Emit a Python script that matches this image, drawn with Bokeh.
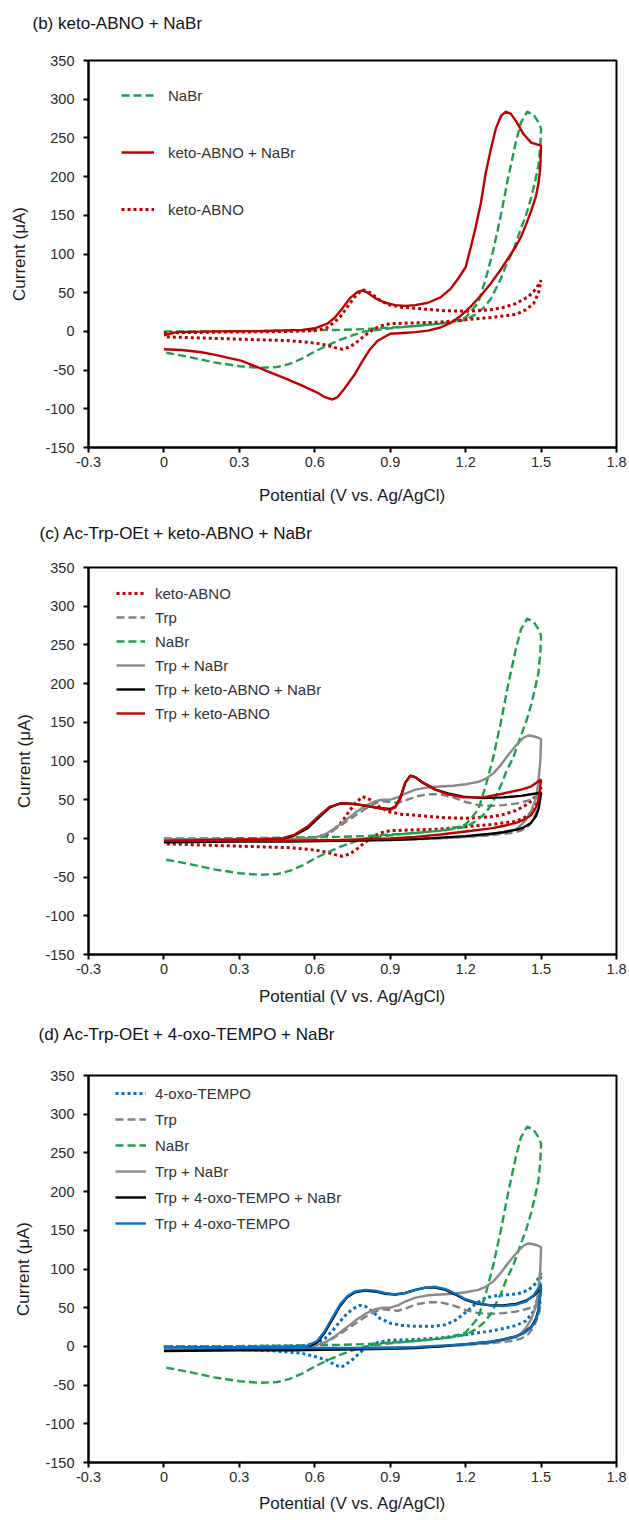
from bokeh.plotting import figure
from bokeh.models import Legend, LegendItem, FixedTicker, Title
from bokeh.layouts import column
from bokeh.embed import file_html
from bokeh.resources import INLINE

# ---------------- data ----------------
X_TICKS = [-0.3, 0, 0.3, 0.6, 0.9, 1.2, 1.5, 1.8]
X_TICK_LABELS = ["-0.3", "0", "0.3", "0.6", "0.9", "1.2", "1.5", "1.8"]
Y_TICKS = [-150, -100, -50, 0, 50, 100, 150, 200, 250, 300, 350]
Y_TICK_LABELS = ["-150", "-100", "-50", "0", "50", "100", "150", "200", "250", "300", "350"]

PANEL_TITLES = ["(b) keto-ABNO + NaBr",
                "(c) Ac-Trp-OEt + keto-ABNO + NaBr",
                "(d) Ac-Trp-OEt + 4-oxo-TEMPO + NaBr"]
X_LABEL = "Potential (V vs. Ag/AgCl)"
Y_LABEL = "Current (\u03bcA)"

PANEL_B_SERIES = ["NaBr", "keto-ABNO + NaBr", "keto-ABNO"]
PANEL_C_SERIES = ["keto-ABNO", "Trp", "NaBr", "Trp + NaBr",
                  "Trp + keto-ABNO + NaBr", "Trp + keto-ABNO"]
PANEL_D_SERIES = ["4-oxo-TEMPO", "Trp", "NaBr", "Trp + NaBr",
                  "Trp + 4-oxo-TEMPO + NaBr", "Trp + 4-oxo-TEMPO"]

# NaBr (forward then reverse sweep)
NABR_E = [0, 0.2, 0.4, 0.6, 0.7, 0.8, 0.9, 1.0, 1.1, 1.15, 1.2, 1.25, 1.28, 1.31, 1.34, 1.37, 1.4, 1.42,
          1.445, 1.47, 1.49, 1.5,
          1.5, 1.497, 1.49, 1.475, 1.46, 1.44, 1.42, 1.39, 1.36, 1.34, 1.3, 1.27, 1.24, 1.2, 1.15, 1.1,
          1.0, 0.9, 0.8, 0.75, 0.7, 0.65, 0.6, 0.55, 0.5, 0.45, 0.38, 0.3, 0.2, 0.1, 0]
NABR_I = [0, 0, 0.5, 1.5, 2, 3, 5, 7, 10, 13, 18, 37, 68, 105, 150, 200, 245, 270,
          284, 280, 270, 262,
          262, 240, 215, 192, 172, 150, 133, 105, 85, 68, 42, 30, 22, 15, 12, 10,
          7, 4, 0, -5, -11, -18, -26, -35, -42, -46, -47, -45, -40, -33, -27]

# keto-ABNO + NaBr
KETO_NABR_E = [0, 0.05, 0.2, 0.4, 0.55, 0.6, 0.65, 0.68, 0.71, 0.74, 0.77, 0.79, 0.81, 0.84, 0.88, 0.92,
               0.96, 1.0, 1.05, 1.1, 1.14, 1.17, 1.2, 1.22, 1.24, 1.26, 1.28, 1.3, 1.32, 1.34, 1.36, 1.38,
               1.4, 1.43, 1.46, 1.5,
               1.5, 1.497, 1.49, 1.48, 1.46, 1.44, 1.42, 1.4, 1.37, 1.34, 1.3, 1.26, 1.22, 1.18, 1.14,
               1.1, 1.05, 1.0, 0.95, 0.9, 0.85, 0.82, 0.79, 0.76, 0.72, 0.69, 0.67, 0.64, 0.61, 0.55,
               0.47, 0.4, 0.31, 0.2, 0.15, 0.07, 0]
KETO_NABR_I = [-5, -1, 0, 0.5, 2, 4, 10, 18, 30, 43, 51, 53, 50, 43, 37, 34,
               33, 34, 37, 44, 55, 68, 83, 108, 135, 165, 205, 235, 262, 278, 284, 281,
               272, 255, 244, 240,
               240, 212, 192, 175, 155, 138, 122, 110, 95, 80, 62, 46, 32, 20, 11,
               5, 1, -1, -2, -3, -12, -23, -38, -55, -73, -85, -88, -85, -79, -70,
               -59, -50, -38, -30, -27, -24, -23]

# keto-ABNO
KETO_E = [0, 0.2, 0.4, 0.5, 0.6, 0.65, 0.7, 0.73, 0.76, 0.79, 0.82, 0.86, 0.9, 0.95, 1.0, 1.1, 1.2, 1.3,
          1.35, 1.4, 1.45, 1.48, 1.5,
          1.5, 1.49, 1.47, 1.44, 1.4, 1.3, 1.2, 1.1, 1.0, 0.9, 0.86, 0.83, 0.8, 0.77, 0.74, 0.71, 0.68,
          0.65, 0.6, 0.5, 0.4, 0.3, 0.2, 0.1, 0]
KETO_I = [-2, -1, -0.5, 0, 1, 5, 18, 32, 45, 54, 50, 40, 34, 31, 30, 27, 26, 28,
          31, 36, 45, 55, 66,
          66, 50, 36, 28, 22, 18, 15, 12, 11, 10, 7, 2, -5, -13, -20, -23, -21,
          -18, -15, -12, -11, -10, -9, -8, -7]

# Trp
TRP_E = [0, 0.3, 0.55, 0.6, 0.65, 0.7, 0.75, 0.8, 0.84, 0.87, 0.9, 0.93, 0.97, 1.0, 1.05, 1.1, 1.15,
         1.2, 1.25, 1.3, 1.35, 1.4, 1.45, 1.48, 1.5,
         1.5, 1.49, 1.47, 1.45, 1.42, 1.38, 1.3, 1.2, 1.1, 1.0, 0.8, 0.6, 0.3, 0]
TRP_I = [-1, -1, 0, 1, 6, 16, 27, 38, 45, 48, 47, 46, 50, 54, 57, 57, 53,
         47, 43, 42, 43, 45, 49, 53, 57,
         57, 40, 25, 16, 10, 7, 4, 2, 0, -1, -2, -3, -3, -3]

# Trp + NaBr
TRP_NABR_E = [0, 0.3, 0.55, 0.6, 0.64, 0.68, 0.72, 0.76, 0.8, 0.84, 0.87, 0.9, 0.93, 0.96, 1.0, 1.05,
              1.1, 1.15, 1.2, 1.25, 1.28, 1.31, 1.34, 1.37, 1.4, 1.43, 1.45, 1.47, 1.49, 1.5,
              1.5, 1.497, 1.49, 1.48, 1.46, 1.44, 1.42, 1.4, 1.35, 1.3, 1.2, 1.1, 1.0, 0.8, 0.6, 0.3, 0]
TRP_NABR_I = [-1, -1, 0, 1, 5, 13, 23, 33, 42, 48, 50, 50, 53, 58, 63, 66,
              67, 68, 70, 73, 77, 84, 95, 108, 120, 130, 133, 132, 130, 128,
              128, 100, 75, 52, 35, 24, 17, 12, 8, 5, 2, 0, -1, -2, -3, -3, -3]

# Trp + keto-ABNO + NaBr
TRP_KETO_NABR_E = [0, 0.2, 0.4, 0.47, 0.52, 0.57, 0.62, 0.66, 0.7, 0.73, 0.77, 0.82, 0.86, 0.9, 0.92, 0.94,
                   0.96, 0.98, 1.0, 1.03, 1.08, 1.13, 1.19, 1.27, 1.35, 1.42, 1.46, 1.5,
                   1.5, 1.495, 1.49, 1.48, 1.46, 1.43, 1.4, 1.35, 1.3, 1.2, 1.1, 1.0, 0.9, 0.7, 0.5, 0.3, 0]
TRP_KETO_NABR_I = [-5, -4, -3, -1, 4, 13, 28, 40, 45, 45, 44, 41, 39, 38, 41, 52,
                   72, 81, 79, 72, 63, 58, 54, 52, 53, 55, 57, 59,
                   59, 48, 38, 29, 20, 14, 11, 8, 6, 3, 1, -1, -2, -3, -4, -4, -5]

# Trp + keto-ABNO
TRP_KETO_E = [0, 0.2, 0.4, 0.47, 0.52, 0.57, 0.62, 0.66, 0.7, 0.73, 0.77, 0.82, 0.86, 0.9, 0.92, 0.94,
              0.96, 0.98, 1.0, 1.03, 1.08, 1.13, 1.19, 1.27, 1.35, 1.42, 1.46, 1.5,
              1.5, 1.495, 1.49, 1.48, 1.46, 1.43, 1.4, 1.35, 1.3, 1.2, 1.1, 1.0, 0.9, 0.7, 0.5, 0.3, 0]
TRP_KETO_I = [-3, -2, -1, 0, 5, 15, 30, 41, 45, 45, 44, 41, 39, 37, 40, 51,
              72, 81, 79, 72, 63, 57, 53, 53, 58, 63, 67, 76,
              76, 62, 50, 40, 30, 24, 20, 16, 13, 9, 5, 2, 0, -2, -3, -3, -3]

# 4-oxo-TEMPO
OXO_E = [0, 0.3, 0.55, 0.6, 0.64, 0.67, 0.7, 0.73, 0.76, 0.78, 0.8, 0.83, 0.86, 0.9, 0.95, 1.0, 1.07,
         1.12, 1.16, 1.2, 1.24, 1.28, 1.33, 1.38, 1.42, 1.45, 1.48, 1.5,
         1.5, 1.495, 1.49, 1.47, 1.44, 1.4, 1.35, 1.3, 1.2, 1.1, 1.0, 0.9, 0.85, 0.81, 0.78, 0.75, 0.72,
         0.705, 0.68, 0.65, 0.6, 0.55, 0.45, 0.3, 0.15, 0]
OXO_I = [0, 0, 1, 3, 10, 20, 32, 43, 50, 53, 52, 45, 36, 30, 27, 26, 26,
         28, 34, 44, 55, 63, 66, 67, 69, 73, 82, 95,
         95, 80, 65, 45, 33, 27, 23, 20, 15, 11, 9, 8, 5, 0, -8, -17, -24,
         -27, -24, -18, -13, -9, -6, -4, -3, -2]

# Trp + 4-oxo-TEMPO + NaBr
TRP_OXO_NABR_E = [0, 0.3, 0.5, 0.57, 0.61, 0.64, 0.67, 0.7, 0.73, 0.76, 0.8, 0.84, 0.88, 0.92, 0.96, 1.0,
                  1.04, 1.08, 1.12, 1.16, 1.2, 1.25, 1.3, 1.35, 1.4, 1.44, 1.47, 1.5,
                  1.5, 1.495, 1.49, 1.48, 1.46, 1.43, 1.4, 1.35, 1.3, 1.2, 1.1, 1.0, 0.9, 0.7, 0.5, 0.3, 0]
TRP_OXO_NABR_I = [-6, -5, -4, -1, 5, 18, 35, 52, 64, 70, 72, 71, 68, 67, 69, 73,
                  76, 76, 73, 67, 60, 55, 53, 53, 55, 59, 65, 76,
                  76, 62, 48, 36, 25, 17, 13, 9, 6, 3, 0, -2, -3, -4, -5, -5, -6]

# Trp + 4-oxo-TEMPO
TRP_OXO_E = [0, 0.3, 0.5, 0.57, 0.61, 0.64, 0.67, 0.7, 0.73, 0.76, 0.8, 0.84, 0.88, 0.92, 0.96, 1.0,
             1.04, 1.08, 1.12, 1.16, 1.2, 1.25, 1.3, 1.35, 1.4, 1.44, 1.47, 1.5,
             1.5, 1.495, 1.49, 1.48, 1.46, 1.43, 1.4, 1.35, 1.3, 1.2, 1.1, 1.0, 0.9, 0.7, 0.5, 0.3, 0]
TRP_OXO_I = [-1, -1, 0, 1, 7, 20, 37, 54, 65, 71, 73, 72, 69, 67, 69, 73,
             76, 77, 74, 68, 61, 56, 53, 52, 54, 58, 66, 80,
             80, 62, 46, 34, 24, 17, 13, 9, 6, 3, 1, -1, -2, -2, -2, -2, -1]

DATA = {
    "NaBr": (NABR_E, NABR_I),
    "keto-ABNO + NaBr": (KETO_NABR_E, KETO_NABR_I),
    "keto-ABNO": (KETO_E, KETO_I),
    "Trp": (TRP_E, TRP_I),
    "Trp + NaBr": (TRP_NABR_E, TRP_NABR_I),
    "Trp + keto-ABNO + NaBr": (TRP_KETO_NABR_E, TRP_KETO_NABR_I),
    "Trp + keto-ABNO": (TRP_KETO_E, TRP_KETO_I),
    "4-oxo-TEMPO": (OXO_E, OXO_I),
    "Trp + 4-oxo-TEMPO + NaBr": (TRP_OXO_NABR_E, TRP_OXO_NABR_I),
    "Trp + 4-oxo-TEMPO": (TRP_OXO_E, TRP_OXO_I),
}

# ---------------- styles ----------------
GREEN = "#1e9e4e"
RED = "#c00000"
BLUE = "#0a6fbf"
STYLE = {
    "NaBr": dict(line_color=GREEN, line_width=2.4, line_dash="8 4"),
    "keto-ABNO + NaBr": dict(line_color=RED, line_width=2.4),
    "keto-ABNO": dict(line_color=RED, line_width=3, line_dash="3 3"),
    "Trp": dict(line_color="#808080", line_width=2.4, line_dash="8 4"),
    "Trp + NaBr": dict(line_color="#8a8a8a", line_width=2.4),
    "Trp + keto-ABNO + NaBr": dict(line_color="black", line_width=2.4),
    "Trp + keto-ABNO": dict(line_color=RED, line_width=2.4),
    "4-oxo-TEMPO": dict(line_color=BLUE, line_width=3, line_dash="3 3"),
    "Trp + 4-oxo-TEMPO + NaBr": dict(line_color="black", line_width=2.4),
    "Trp + 4-oxo-TEMPO": dict(line_color=BLUE, line_width=2.4),
}

FONT = "Liberation Sans"
FRAME_H = 387
FIG_W = 629
FRAME_RIGHT = 616

# h: canvas height, t: frame top inside canvas, l: frame left,
# tx: title start relative to frame left, gap: spacer standoff between title and frame
GEOM = [
    dict(h=512, t=60, l=88, tx=-56, gap=15, vx=33, gw=33, lst=14, sp=37, top1=35,
         ylst=13, xlst=16),
    dict(h=500, t=55, l=86, tx=-49, gap=12, vx=28, gw=29, lst=10, sp=4, top1=26,
         ylst=8, xlst=10),
    dict(h=508, t=63, l=81, tx=-50, gap=19, vx=27, gw=31, lst=9, sp=6, top1=18,
         ylst=9, xlst=9),
]


def make_panel(title, series, g):
    fw = FRAME_RIGHT - g["l"]
    p = figure(width=FIG_W, height=g["h"], x_range=(-0.3, 1.8), y_range=(-150, 350),
               output_backend="svg", toolbar_location=None,
               min_border_left=g["l"], min_border_right=FIG_W - g["l"] - fw,
               min_border_top=g["t"], min_border_bottom=g["h"] - g["t"] - FRAME_H)

    # spacer (closest to the frame) then the visible title above it
    p.add_layout(Title(text=" ", text_font_size="10px", standoff=g["gap"]), "above")
    p.add_layout(Title(text=title, align="left", offset=g["tx"], standoff=0,
                       vertical_align="bottom", text_font=FONT, text_font_size="17px",
                       text_font_style="normal", text_color="#111111"), "above")

    p.grid.visible = False
    p.outline_line_color = "black"
    p.outline_line_width = 2
    p.background_fill_color = "white"
    p.border_fill_color = "white"

    p.xaxis.ticker = FixedTicker(ticks=X_TICKS)
    p.yaxis.ticker = FixedTicker(ticks=Y_TICKS)
    p.xaxis.major_label_overrides = dict(zip(X_TICKS, X_TICK_LABELS))
    p.yaxis.major_label_overrides = dict(zip(Y_TICKS, Y_TICK_LABELS))
    p.xaxis.axis_label = X_LABEL
    p.yaxis.axis_label = Y_LABEL
    for ax in (p.xaxis[0], p.yaxis[0]):
        ax.axis_line_color = "black"
        ax.axis_line_width = 2
        ax.major_tick_line_color = "black"
        ax.major_tick_line_width = 2
        ax.major_tick_in = 0
        ax.major_tick_out = 5
        ax.minor_tick_line_color = None
        ax.major_label_text_font = FONT
        ax.major_label_text_font_size = "14.5px"
        ax.major_label_text_color = "#2a2a2a"
        ax.axis_label_text_font = FONT
        ax.axis_label_text_font_size = "17px"
        ax.axis_label_text_font_style = "normal"
        ax.axis_label_text_color = "#1a1a1a"
    p.xaxis.major_label_standoff = 4
    p.yaxis.major_label_standoff = 9
    p.xaxis.axis_label_standoff = g["xlst"]
    p.yaxis.axis_label_standoff = g["ylst"]

    items = []
    for name in series:
        e, i = DATA[name]
        r = p.line(e, i, **STYLE[name])
        items.append(LegendItem(label=name, renderers=[r]))

    item_h = 20
    n = len(series)
    leg_h = n * item_h + (n - 1) * g["sp"]
    top = g["top1"] - item_h / 2
    vy = FRAME_H - top - leg_h
    leg = Legend(items=items, location=(g["vx"], vy), padding=0, margin=0,
                 spacing=g["sp"], glyph_width=g["gw"], glyph_height=item_h,
                 label_height=item_h, label_standoff=g["lst"],
                 label_text_font=FONT, label_text_font_size="15px",
                 label_text_color="#333333", border_line_color=None,
                 background_fill_alpha=0)
    p.add_layout(leg)
    return p


p1 = make_panel(PANEL_TITLES[0], PANEL_B_SERIES, GEOM[0])
p2 = make_panel(PANEL_TITLES[1], PANEL_C_SERIES, GEOM[1])
p3 = make_panel(PANEL_TITLES[2], PANEL_D_SERIES, GEOM[2])

layout = column(p1, p2, p3, spacing=0)
open("out.html", "w").write(file_html(layout, INLINE))
